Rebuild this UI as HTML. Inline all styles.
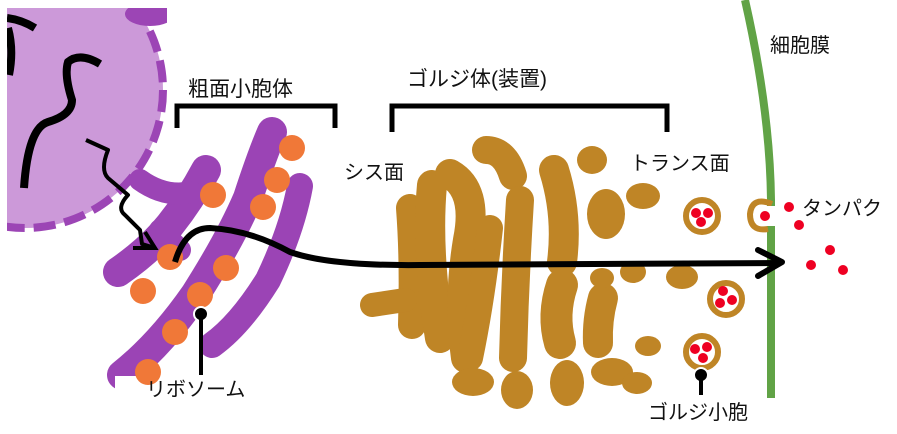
<!DOCTYPE html>
<html><head><meta charset="utf-8">
<style>
html,body{margin:0;padding:0;background:#fff;}
svg{display:block;}
text{font-family:"Liberation Sans","Noto Sans CJK JP",sans-serif;font-size:20px;fill:#111;}
</style></head>
<body>
<svg width="897" height="434" viewBox="0 0 897 434" xmlns="http://www.w3.org/2000/svg">
<defs><clipPath id="nc"><rect x="7" y="8" width="160" height="300"/></clipPath></defs>
<!-- nucleus -->
<g clip-path="url(#nc)">
<circle cx="25" cy="90" r="138" fill="#cc99d9" stroke="#9c45b5" stroke-width="8" stroke-dasharray="22 9"/>
<ellipse cx="150" cy="14" rx="25" ry="12" fill="#9c45b5"/>
<path d="M7,18 Q22,20 35,28" stroke="#000" stroke-width="8" fill="none"/>
<path d="M8,28 Q14,50 9,75" stroke="#000" stroke-width="8" fill="none"/>
<path d="M100,64 Q80,52 68,62 Q64,75 72,100 Q72,115 48,122 Q28,128 24,188" stroke="#000" stroke-width="8" fill="none"/>
</g>
<!-- ER -->
<g stroke="#9b44b5" fill="none" stroke-linecap="round" stroke-linejoin="round">
<path d="M272,132 Q262,155 248,198 Q230,240 195,295 Q160,345 122,375" stroke-width="30"/>
<path d="M300,186 Q292,230 268,280 Q240,325 212,345" stroke-width="26"/>
<path d="M118,272 Q150,250 170,225 Q190,200 206,170" stroke-width="30"/>
<path d="M140,180 Q165,198 192,192" stroke-width="22"/>
<path d="M160,230 L180,250" stroke-width="22"/>
</g>
<rect x="115" y="376" width="150" height="30" fill="#fff"/>
<g fill="#f07838">
<circle cx="292" cy="148" r="13"/><circle cx="277" cy="180" r="13"/><circle cx="263" cy="207" r="13"/>
<circle cx="213" cy="195" r="13"/><circle cx="170" cy="257" r="13"/><circle cx="226" cy="268" r="13"/>
<circle cx="200" cy="295" r="13"/><circle cx="143" cy="291" r="13"/><circle cx="175" cy="332" r="13"/>
<circle cx="148" cy="372" r="13"/>
</g>
<circle cx="201" cy="314" r="7" fill="#000" stroke="#fff" stroke-width="2"/>
<line x1="201" y1="314" x2="201" y2="375" stroke="#000" stroke-width="4"/>
<!-- wavy arrow -->
<path d="M86,140 L108,150 Q100,170 108,178 L128,195 Q116,208 125,215 L140,230 L142,244 L155,248" stroke="#000" stroke-width="4" fill="none" stroke-linejoin="round"/>
<path d="M133,248 L155,248 L145,232" stroke="#000" stroke-width="4" fill="none"/>
<!-- golgi -->
<g stroke="#bf8526" fill="none" stroke-linecap="round" stroke-linejoin="round">
<path d="M410,208 Q414,260 412,325" stroke-width="28"/>
<path d="M372,305 L405,300" stroke-width="24"/>
<path d="M432,185 Q426,250 440,338" stroke-width="30"/>
<path d="M450,174 Q478,190 468,240 Q458,300 466,358" stroke-width="30"/>
<path d="M486,150 Q505,150 513,176" stroke-width="28"/>
<path d="M490,228 Q482,300 470,358" stroke-width="26"/>
<path d="M520,200 Q515,280 513,358" stroke-width="28"/>
<path d="M554,170 Q568,215 562,262" stroke-width="30"/>
<path d="M562,285 Q552,315 560,343" stroke-width="32"/>
<path d="M603,298 Q597,320 598,343" stroke-width="30"/>
</g>
<g fill="#bf8526">
<ellipse cx="592" cy="160" rx="15" ry="14"/>
<ellipse cx="606" cy="214" rx="19" ry="25"/>
<ellipse cx="643" cy="196" rx="17" ry="13"/>
<ellipse cx="602" cy="278" rx="12" ry="10"/><ellipse cx="633" cy="272" rx="13" ry="11"/>
<ellipse cx="682" cy="277" rx="16" ry="12"/>
<ellipse cx="648" cy="346" rx="13" ry="10"/>
<ellipse cx="473" cy="382" rx="21" ry="14"/><ellipse cx="517" cy="390" rx="16" ry="19"/>
<ellipse cx="567" cy="383" rx="17" ry="23"/><ellipse cx="612" cy="372" rx="21" ry="14"/>
<ellipse cx="637" cy="383" rx="15" ry="11"/>
</g>
<!-- brackets -->
<path d="M177,128 V106 H335 V128" stroke="#000" stroke-width="5" fill="none"/>
<path d="M392,132 V106 H667 V132" stroke="#000" stroke-width="5" fill="none"/>
<!-- membrane -->
<path d="M745,0 Q770,110 771,200 L771,398" stroke="#61a346" stroke-width="8" fill="none"/>
<!-- vesicles -->
<g fill="none" stroke="#bf8526" stroke-width="6">
<circle cx="702" cy="216" r="16"/><circle cx="726" cy="299" r="16"/><circle cx="702" cy="352" r="16"/>
<path d="M772,204 Q752,196 750,214 Q750,232 768,229"/>
</g>
<rect x="767" y="206" width="10" height="20" fill="#fff"/>
<g fill="#ee0022">
<circle cx="696" cy="213" r="5"/><circle cx="708" cy="213" r="5"/><circle cx="701" cy="222" r="5"/>
<circle cx="723" cy="291" r="5"/><circle cx="732" cy="300" r="5"/><circle cx="720" cy="303" r="5"/>
<circle cx="695" cy="349" r="5"/><circle cx="707" cy="347" r="5"/><circle cx="703" cy="358" r="5"/>
<circle cx="765" cy="216" r="5"/><circle cx="789" cy="207" r="5"/><circle cx="799" cy="225" r="5"/>
<circle cx="830" cy="250" r="5"/><circle cx="811" cy="265" r="5"/><circle cx="843" cy="270" r="5"/>
</g>
<circle cx="701" cy="375" r="7" fill="#000" stroke="#fff" stroke-width="2"/>
<line x1="701" y1="375" x2="701" y2="395" stroke="#000" stroke-width="4"/>
<!-- main arrow -->
<path d="M175,262 Q185,228 210,228 Q250,230 290,252 Q330,266 420,265 L780,263" stroke="#000" stroke-width="6" fill="none"/>
<path d="M758,250 L782,262 L758,276" stroke="#000" stroke-width="6" fill="none" stroke-linecap="round" stroke-linejoin="round"/>
<!-- labels -->
<text x="188" y="96" style="font-size:21px">粗面小胞体</text>
<text x="407" y="86" style="font-size:21px">ゴルジ体(装置)</text>
<text x="344" y="179">シス面</text>
<text x="630" y="170">トランス面</text>
<text x="770" y="52">細胞膜</text>
<text x="802" y="215">タンパク</text>
<text x="146" y="396">リボソーム</text>
<text x="648" y="419">ゴルジ小胞</text>
</svg>
</body></html>
